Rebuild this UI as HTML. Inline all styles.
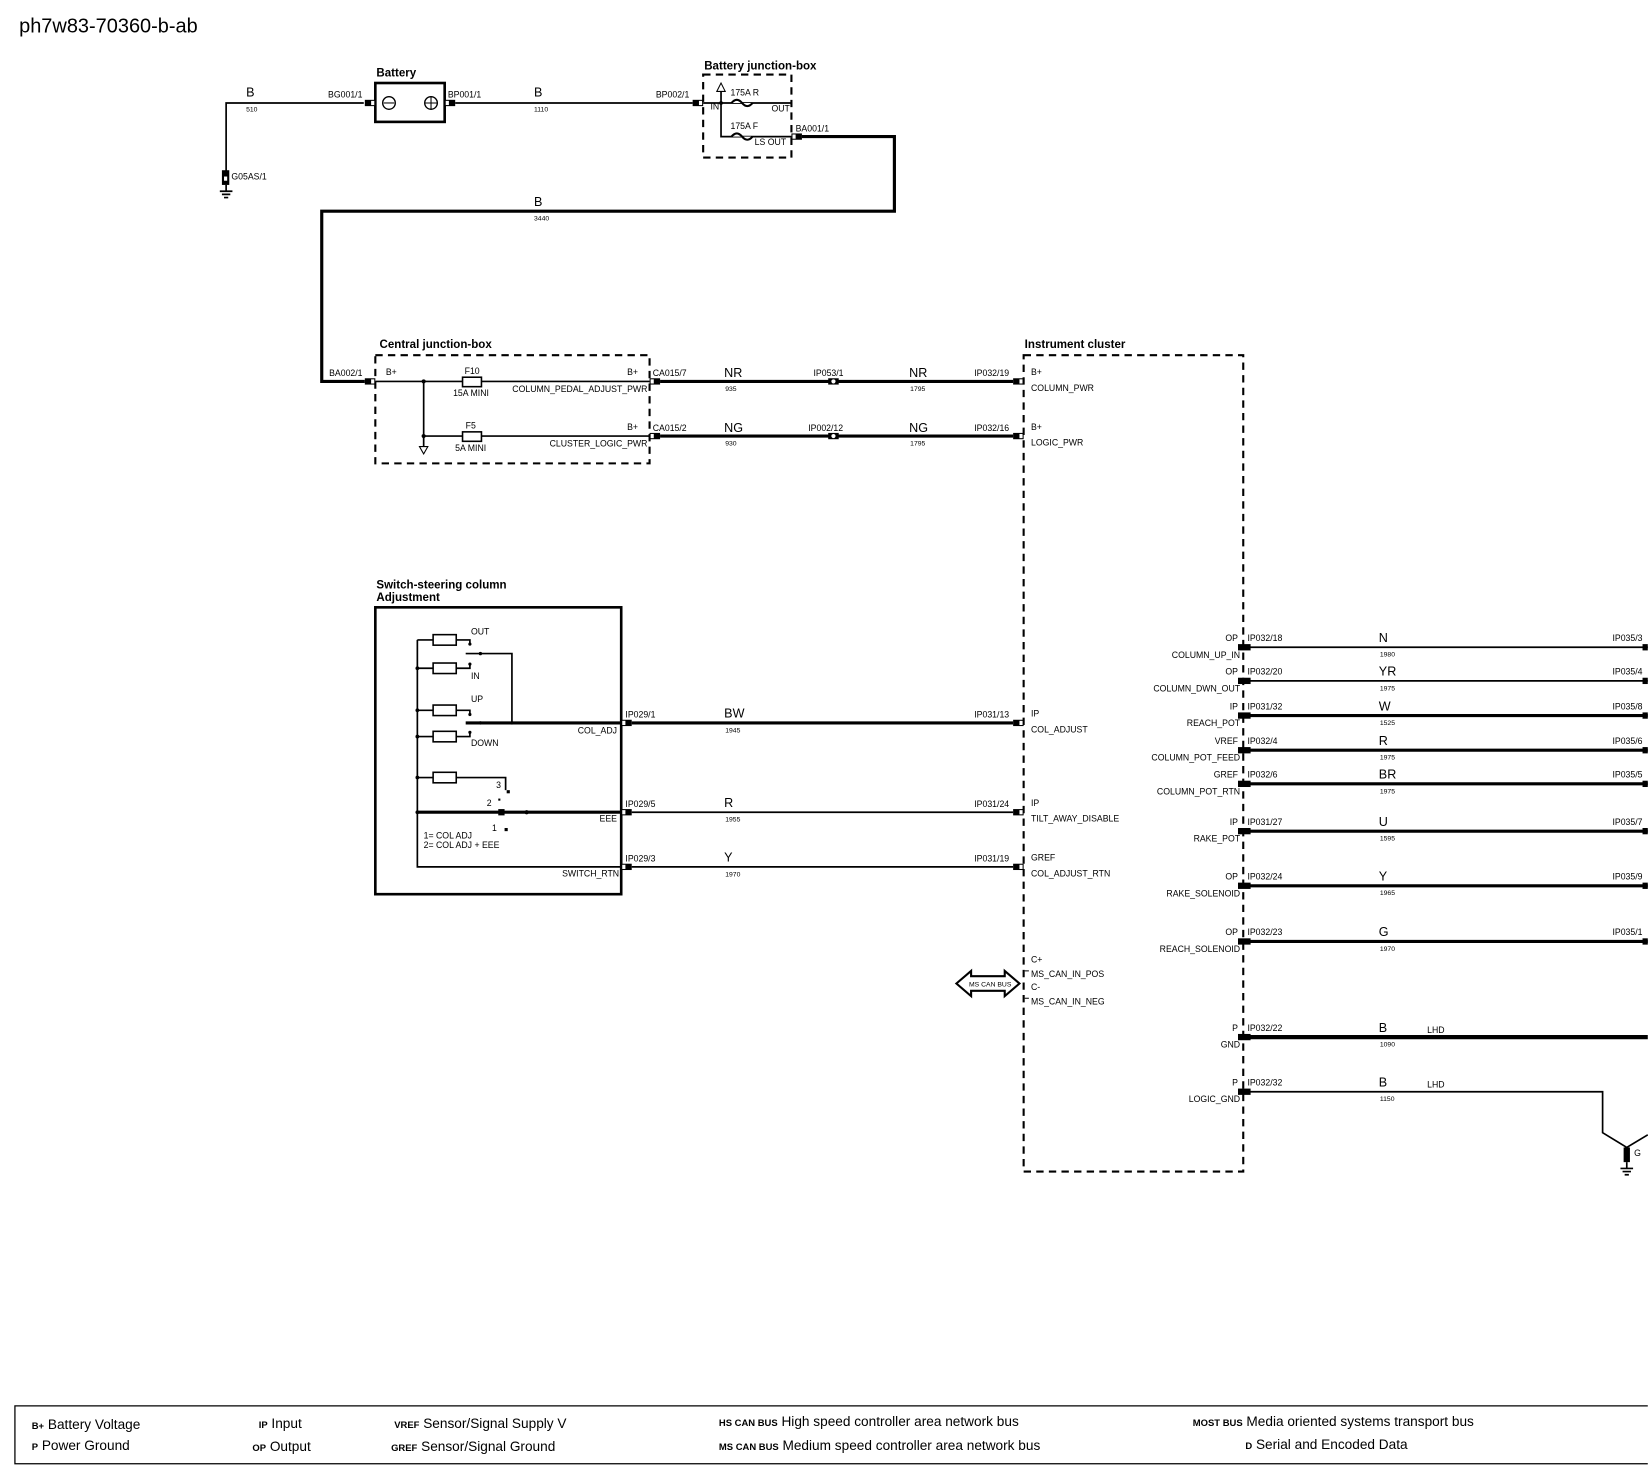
<!DOCTYPE html>
<html><head><meta charset="utf-8"><style>
html,body{margin:0;padding:0;background:#fff;}
svg{display:block;}
text{font-family:"Liberation Sans",sans-serif;fill:#000;}
.m{font-size:12px;}
.n{font-size:8.3px;}
.k{font-size:6.5px;}
.b{font-weight:bold;font-size:11px;}
.w{stroke:#000;stroke-width:1.6;fill:none;}
.t{stroke:#000;stroke-width:3;fill:none;}
.d{stroke:#000;stroke-width:2;fill:none;stroke-dasharray:7,5;}
.r{text-anchor:end;}
</style></head><body>
<svg width="1648" height="1470" viewBox="0 0 1568 1399" xmlns="http://www.w3.org/2000/svg">
<defs>
<g id="cr"><rect x="0" y="-3" width="10" height="6" fill="#000"/><rect x="1" y="-2" width="3" height="4" fill="#fff"/></g>
<g id="cl"><rect x="-10" y="-3" width="10" height="6" fill="#000"/><rect x="-4" y="-2" width="3" height="4" fill="#fff"/></g>
<g id="ci"><rect x="-5" y="-3" width="10" height="6" fill="#000"/><circle cx="0" cy="0" r="2" fill="#fff"/></g>
</defs>
<text x="18" y="31" style="font-size:19px">ph7w83-70360-b-ab</text>

<!-- battery area -->
<path class="w" d="M346 98 H215 V165"/>
<text x="234" y="92" class="m">B</text><text x="234" y="106" class="k">510</text>
<rect x="211" y="162" width="7" height="14" fill="#000"/><rect x="213" y="168" width="3" height="4" fill="#fff"/>
<text x="220" y="171" class="n">G05AS/1</text>
<path class="w" d="M215 176 V182 M209 182 H221 M211 185 H219 M213 188 H217"/>
<text x="358" y="73" class="b">Battery</text>
<rect x="357" y="79" width="66" height="37" fill="none" stroke="#000" stroke-width="2.5"/>
<use href="#cl" x="357" y="98"/><use href="#cr" x="423" y="98"/>
<text x="312" y="93" class="n">BG001/1</text><text x="426" y="93" class="n">BP001/1</text>
<circle cx="370" cy="98" r="6" fill="none" stroke="#000" stroke-width="1.3"/><path d="M365 98H375" stroke="#000"/>
<circle cx="410" cy="98" r="6" fill="none" stroke="#000" stroke-width="1.3"/><path d="M404 98H416M410 92V104" stroke="#000"/>
<path class="w" d="M433 98 H659"/>
<text x="508" y="92" class="m">B</text><text x="508" y="106" class="k">1110</text>
<use href="#cl" x="669" y="98"/><text x="624" y="93" class="n">BP002/1</text>
<text x="670" y="66" class="b">Battery junction-box</text>
<rect x="669" y="71" width="84" height="79" class="d"/>
<path class="w" d="M669 98 H753 M686 85 V130 H753"/>
<path d="M682 87 L686 79 L690 87 Z" fill="#fff" stroke="#000"/>
<circle cx="686" cy="98" r="1.8" fill="#000"/>
<path d="M696 98 q5 -6 10 0 q5 6 10 0" stroke="#000" stroke-width="2" fill="#fff"/>
<path d="M696 130 q5 -6 10 0 q5 6 10 0" stroke="#000" stroke-width="2" fill="#fff"/>
<text x="676" y="104" class="n">IN</text>
<text x="695" y="91" class="n">175A   R</text><text x="734" y="106" class="n">OUT</text>
<text x="695" y="123" class="n">175A   F</text><text x="718" y="138" class="n">LS OUT</text>
<use href="#cr" x="753" y="130"/><text x="757" y="125" class="n">BA001/1</text>
<path class="t" d="M763 130 H851 V201 H306 V363 H347"/>
<text x="508" y="196" class="m">B</text><text x="508" y="210" class="k">3440</text>

<!-- central junction box -->
<text x="361" y="331" class="b">Central junction-box</text>
<rect x="357" y="338" width="261" height="103" class="d"/>
<use href="#cl" x="357" y="363"/><text x="313" y="358" class="n">BA002/1</text>
<path class="w" d="M357 363 H618 M403 363 V425 M403 415 H618"/>
<circle cx="403" cy="363" r="2" fill="#000"/><circle cx="403" cy="415" r="2" fill="#000"/>
<path d="M399 425 L403 432 L407 425 Z" fill="#fff" stroke="#000"/>
<rect x="440" y="359" width="18" height="9" fill="#fff" stroke="#000" stroke-width="1.5"/>
<rect x="440" y="411" width="18" height="9" fill="#fff" stroke="#000" stroke-width="1.5"/>
<text x="367" y="357" class="n">B+</text><text x="442" y="356" class="n">F10</text><text x="431" y="377" class="n">15A MINI</text>
<text x="443" y="408" class="n">F5</text><text x="433" y="429" class="n">5A MINI</text>
<text x="607" y="357" class="n r">B+</text><text x="616" y="373" class="n r">COLUMN_PEDAL_ADJUST_PWR</text>
<text x="607" y="409" class="n r">B+</text><text x="616" y="425" class="n r">CLUSTER_LOGIC_PWR</text>
<use href="#cr" x="618" y="363"/><use href="#cr" x="618" y="415"/>
<path class="t" d="M628 363 H964 M628 415 H964"/>
<text x="621" y="358" class="n">CA015/7</text><text x="621" y="410" class="n">CA015/2</text>
<text x="689" y="359" class="m">NR</text><text x="690" y="372" class="k">935</text>
<text x="689" y="411" class="m">NG</text><text x="690" y="424" class="k">930</text>
<use href="#ci" x="793" y="363"/><use href="#ci" x="793" y="415"/>
<text x="774" y="358" class="n">IP053/1</text><text x="769" y="410" class="n">IP002/12</text>
<text x="865" y="359" class="m">NR</text><text x="866" y="372" class="k">1795</text>
<text x="865" y="411" class="m">NG</text><text x="866" y="424" class="k">1795</text>
<use href="#cl" x="974" y="363"/><use href="#cl" x="974" y="415"/>
<text x="927" y="358" class="n">IP032/19</text><text x="927" y="410" class="n">IP032/16</text>

<!-- instrument cluster -->
<text x="975" y="331" class="b">Instrument cluster</text>
<rect x="974" y="338" width="209" height="777" class="d"/>
<text x="981" y="357" class="n">B+</text><text x="981" y="372" class="n">COLUMN_PWR</text>
<text x="981" y="409" class="n">B+</text><text x="981" y="424" class="n">LOGIC_PWR</text>
<text x="981" y="682" class="n">IP</text><text x="981" y="697" class="n">COL_ADJUST</text>
<text x="981" y="767" class="n">IP</text><text x="981" y="782" class="n">TILT_AWAY_DISABLE</text>
<text x="981" y="819" class="n">GREF</text><text x="981" y="834" class="n">COL_ADJUST_RTN</text>
<text x="981" y="916" class="n">C+</text><text x="981" y="930" class="n">MS_CAN_IN_POS</text>
<text x="981" y="942" class="n">C-</text><text x="981" y="956" class="n">MS_CAN_IN_NEG</text>
<path d="M975 924 h4 M975 950 h4" stroke="#000"/>
<path d="M910 936 L924 924 V929 H956 V924 L970 936 L956 948 V943 H924 V948 Z" fill="#fff" stroke="#000" stroke-width="2"/>
<text x="922" y="939" style="font-size:6.5px">MS CAN BUS</text>

<!-- switch -->
<text x="358" y="560" class="b">Switch-steering column</text>
<text x="358" y="572" class="b">Adjustment</text>
<rect x="357" y="578" width="234" height="273" fill="none" stroke="#000" stroke-width="2.5"/>
<path class="w" d="M397 609 V825 H591 M397 609 H412 M434 609 H447 V613 M397 636 H412 M434 636 H447 V632 M443 622 H487 V688 M397 676 H412 M434 676 H447 V680 M397 701 H412 M434 701 H447 V697 M397 740 H412 M434 740 H481 V752"/>
<path class="t" d="M443 688 H591 M397 773 H591"/>
<rect x="412" y="604" width="22" height="10" fill="#fff" stroke="#000" stroke-width="1.5"/>
<rect x="412" y="631" width="22" height="10" fill="#fff" stroke="#000" stroke-width="1.5"/>
<rect x="412" y="671" width="22" height="10" fill="#fff" stroke="#000" stroke-width="1.5"/>
<rect x="412" y="696" width="22" height="10" fill="#fff" stroke="#000" stroke-width="1.5"/>
<rect x="412" y="735" width="22" height="10" fill="#fff" stroke="#000" stroke-width="1.5"/>
<g fill="#000"><circle cx="397" cy="636" r="1.8"/><circle cx="397" cy="676" r="1.8"/><circle cx="397" cy="701" r="1.8"/><circle cx="397" cy="740" r="1.8"/><circle cx="397" cy="773" r="1.8"/><circle cx="457" cy="622" r="1.6"/><circle cx="457" cy="688" r="1.6"/><circle cx="487" cy="688" r="1.6"/><circle cx="501" cy="773" r="2"/><circle cx="447" cy="613" r="1.5"/><circle cx="447" cy="632" r="1.5"/><circle cx="447" cy="680" r="1.5"/><circle cx="447" cy="697" r="1.5"/><rect x="474" y="770" width="6" height="6"/><rect x="480" y="788" width="3" height="3"/><rect x="474" y="760" width="2" height="2"/><rect x="482" y="752" width="3" height="3"/></g>
<text x="448" y="604" class="n">OUT</text><text x="448" y="646" class="n">IN</text><text x="448" y="668" class="n">UP</text><text x="448" y="710" class="n">DOWN</text>
<text x="472" y="750" class="n">3</text><text x="463" y="767" class="n">2</text><text x="468" y="791" class="n">1</text>
<text x="403" y="798" class="n">1= COL ADJ</text><text x="403" y="807" class="n">2= COL ADJ + EEE</text>
<text x="587" y="698" class="n r">COL_ADJ</text><text x="587" y="782" class="n r">EEE</text><text x="589" y="834" class="n r">SWITCH_RTN</text>
<use href="#cr" x="591" y="688"/><use href="#cr" x="591" y="773"/><use href="#cr" x="591" y="825"/>
<text x="595" y="683" class="n">IP029/1</text><text x="595" y="768" class="n">IP029/5</text><text x="595" y="820" class="n">IP029/3</text>
<path class="t" d="M601 688 H964"/><path class="w" d="M601 773 H964 M601 825 H964"/>
<text x="689" y="683" class="m">BW</text><text x="690" y="697" class="k">1945</text>
<text x="689" y="768" class="m">R</text><text x="690" y="782" class="k">1955</text>
<text x="689" y="820" class="m">Y</text><text x="690" y="834" class="k">1970</text>
<use href="#cl" x="974" y="688"/><use href="#cl" x="974" y="773"/><use href="#cl" x="974" y="825"/>
<text x="927" y="683" class="n">IP031/13</text><text x="927" y="768" class="n">IP031/24</text><text x="927" y="820" class="n">IP031/19</text>

<!-- right side -->
<g>
<g transform="translate(0,616)"><text x="1178" y="-6" class="n r">OP</text><text x="1180" y="10" class="n r">COLUMN_UP_IN</text><text x="1187" y="-6" class="n">IP032/18</text><text x="1312" y="-5" class="m">N</text><text x="1313" y="9" class="k">1980</text><text x="1563" y="-6" class="n r">IP035/3</text></g>
<g transform="translate(0,648)"><text x="1178" y="-6" class="n r">OP</text><text x="1180" y="10" class="n r">COLUMN_DWN_OUT</text><text x="1187" y="-6" class="n">IP032/20</text><text x="1312" y="-5" class="m">YR</text><text x="1313" y="9" class="k">1975</text><text x="1563" y="-6" class="n r">IP035/4</text></g>
<g transform="translate(0,681)"><text x="1178" y="-6" class="n r">IP</text><text x="1180" y="10" class="n r">REACH_POT</text><text x="1187" y="-6" class="n">IP031/32</text><text x="1312" y="-5" class="m">W</text><text x="1313" y="9" class="k">1525</text><text x="1563" y="-6" class="n r">IP035/8</text></g>
<g transform="translate(0,714)"><text x="1178" y="-6" class="n r">VREF</text><text x="1180" y="10" class="n r">COLUMN_POT_FEED</text><text x="1187" y="-6" class="n">IP032/4</text><text x="1312" y="-5" class="m">R</text><text x="1313" y="9" class="k">1975</text><text x="1563" y="-6" class="n r">IP035/6</text></g>
<g transform="translate(0,746)"><text x="1178" y="-6" class="n r">GREF</text><text x="1180" y="10" class="n r">COLUMN_POT_RTN</text><text x="1187" y="-6" class="n">IP032/6</text><text x="1312" y="-5" class="m">BR</text><text x="1313" y="9" class="k">1975</text><text x="1563" y="-6" class="n r">IP035/5</text></g>
<g transform="translate(0,791)"><text x="1178" y="-6" class="n r">IP</text><text x="1180" y="10" class="n r">RAKE_POT</text><text x="1187" y="-6" class="n">IP031/27</text><text x="1312" y="-5" class="m">U</text><text x="1313" y="9" class="k">1595</text><text x="1563" y="-6" class="n r">IP035/7</text></g>
<g transform="translate(0,843)"><text x="1178" y="-6" class="n r">OP</text><text x="1180" y="10" class="n r">RAKE_SOLENOID</text><text x="1187" y="-6" class="n">IP032/24</text><text x="1312" y="-5" class="m">Y</text><text x="1313" y="9" class="k">1965</text><text x="1563" y="-6" class="n r">IP035/9</text></g>
<g transform="translate(0,896)"><text x="1178" y="-6" class="n r">OP</text><text x="1180" y="10" class="n r">REACH_SOLENOID</text><text x="1187" y="-6" class="n">IP032/23</text><text x="1312" y="-5" class="m">G</text><text x="1313" y="9" class="k">1970</text><text x="1563" y="-6" class="n r">IP035/1</text></g>
<g transform="translate(0,987)"><text x="1178" y="-6" class="n r">P</text><text x="1180" y="10" class="n r">GND</text><text x="1187" y="-6" class="n">IP032/22</text><text x="1312" y="-5" class="m">B</text><text x="1313" y="9" class="k">1090</text><text x="1358" y="-4" class="n">LHD</text></g>
<g transform="translate(0,1039)"><text x="1178" y="-6" class="n r">P</text><text x="1180" y="10" class="n r">LOGIC_GND</text><text x="1187" y="-6" class="n">IP032/32</text><text x="1312" y="-5" class="m">B</text><text x="1313" y="9" class="k">1150</text><text x="1358" y="-4" class="n">LHD</text></g>
</g>
<path class="w" d="M1183 616 H1568 M1183 648 H1568 M1183 1039 H1525 V1078 L1548 1092 L1568 1080"/>
<path class="t" d="M1183 681 H1568 M1183 714 H1568 M1183 746 H1568 M1183 791 H1568 M1183 843 H1568 M1183 896 H1568"/>
<path stroke="#000" stroke-width="4" d="M1183 987 H1568"/>
<g fill="#000">
<rect x="1178" y="613" width="12" height="6"/><rect x="1178" y="645" width="12" height="6"/><rect x="1178" y="678" width="12" height="6"/><rect x="1178" y="711" width="12" height="6"/><rect x="1178" y="743" width="12" height="6"/><rect x="1178" y="788" width="12" height="6"/><rect x="1178" y="840" width="12" height="6"/><rect x="1178" y="893" width="12" height="6"/><rect x="1178" y="984" width="12" height="6"/><rect x="1178" y="1036" width="12" height="6"/>
<rect x="1563" y="613" width="5" height="6"/><rect x="1563" y="645" width="5" height="6"/><rect x="1563" y="678" width="5" height="6"/><rect x="1563" y="711" width="5" height="6"/><rect x="1563" y="743" width="5" height="6"/><rect x="1563" y="788" width="5" height="6"/><rect x="1563" y="840" width="5" height="6"/><rect x="1563" y="893" width="5" height="6"/>
<rect x="1545" y="1092" width="6" height="14"/>
</g>
<path class="w" d="M1548 1106 V1112 M1542 1112 H1554 M1544 1115 H1552 M1546 1118 H1550"/>
<text x="1555" y="1100" class="n">G</text>

<!-- legend -->
<path d="M1568 1338 H14 V1393 H1568" stroke="#000" stroke-width="1.2" fill="none"/>
<g style="font-size:13px">
<text x="30" y="1360"><tspan style="font-weight:bold;font-size:9px">B+</tspan> Battery Voltage</text>
<text x="30" y="1380"><tspan style="font-weight:bold;font-size:9px">P</tspan>   Power Ground</text>
<text x="246" y="1359"><tspan style="font-weight:bold;font-size:9px">IP</tspan>  Input</text>
<text x="240" y="1381"><tspan style="font-weight:bold;font-size:9px">OP</tspan>  Output</text>
<text x="375" y="1359"><tspan style="font-weight:bold;font-size:9px">VREF</tspan>  Sensor/Signal Supply V</text>
<text x="372" y="1381"><tspan style="font-weight:bold;font-size:9px">GREF</tspan>  Sensor/Signal Ground</text>
<text x="684" y="1357"><tspan style="font-weight:bold;font-size:9px">HS CAN BUS</tspan>  High speed controller area network bus</text>
<text x="684" y="1380"><tspan style="font-weight:bold;font-size:9px">MS CAN BUS</tspan>  Medium speed controller area network bus</text>
<text x="1135" y="1357"><tspan style="font-weight:bold;font-size:9px">MOST BUS</tspan>  Media oriented systems transport bus</text>
<text x="1185" y="1379"><tspan style="font-weight:bold;font-size:9px">D</tspan>  Serial and Encoded Data</text>
</g>
</svg>
</body></html>
